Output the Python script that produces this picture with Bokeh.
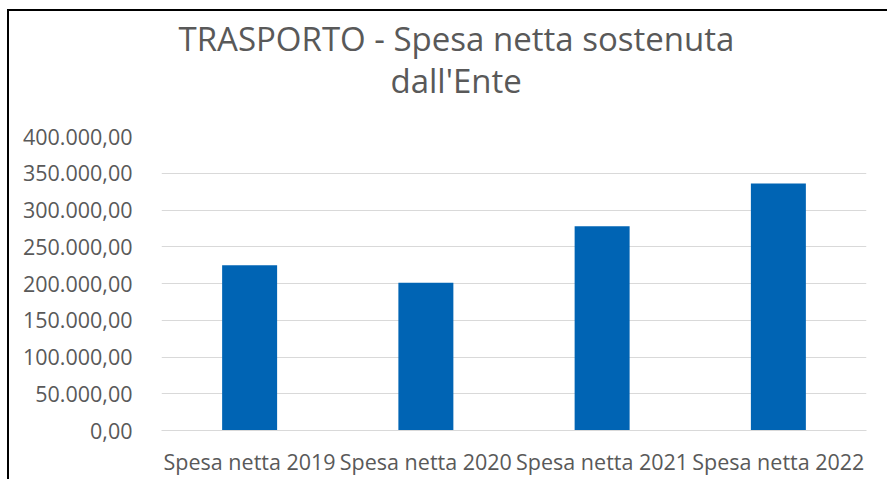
from bokeh.plotting import figure
from bokeh.models import Title, FixedTicker, Range1d
from bokeh.embed import file_html
from bokeh.resources import INLINE

categories = ["Spesa netta 2019", "Spesa netta 2020", "Spesa netta 2021", "Spesa netta 2022"]
values = [225000, 201000, 278000, 336000]
y_ticks = [0, 50000, 100000, 150000, 200000, 250000, 300000, 350000, 400000]
y_tick_labels = ["0,00", "50.000,00", "100.000,00", "150.000,00", "200.000,00",
                 "250.000,00", "300.000,00", "350.000,00", "400.000,00"]
title_lines = ["TRASPORTO - Spesa netta sostenuta", "dall'Ente"]

FONT = "Open Sans"
GREY = "#595959"

p = figure(x_range=categories, y_range=Range1d(0, 400000),
           width=880, height=470, output_backend="svg", toolbar_location=None,
           min_border_left=152, min_border_right=23, min_border_top=125, min_border_bottom=51)

p.vbar(x=categories, top=values, width=0.312, fill_color="#0064b4", line_color=None)

# second title line (closest to the frame); trailing line break keeps the gap to the plot
p.add_layout(Title(text=title_lines[1] + "\n", align="left", offset=229, vertical_align="top",
                   text_font=FONT, text_font_size="33px", text_font_style="normal",
                   text_color=GREY, standoff=0, text_line_height=0.72), "above")
# first title line, above it
p.add_layout(Title(text=title_lines[0], align="left", offset=17, vertical_align="bottom",
                   text_font=FONT, text_font_size="33px", text_font_style="normal",
                   text_color=GREY, standoff=-6), "above")

p.yaxis.ticker = FixedTicker(ticks=y_ticks)
p.yaxis.major_label_overrides = dict(zip(y_ticks, y_tick_labels))
for ax in (p.xaxis, p.yaxis):
    ax.major_tick_line_color = None
    ax.minor_tick_line_color = None
    ax.major_label_text_font = FONT
    ax.major_label_text_font_size = "21.5px"
    ax.major_label_text_color = GREY
p.yaxis.axis_line_color = None
p.yaxis.major_label_standoff = 23
p.xaxis.axis_line_color = "#d9d9d9"
p.xaxis.major_label_standoff = 10

p.xgrid.grid_line_color = None
p.ygrid.grid_line_color = "#d9d9d9"
p.outline_line_color = None
p.styles = {"border-top": "2px solid #000", "border-left": "2px solid #000",
            "margin-left": "7px", "margin-top": "9px"}

open("out.html", "w").write(file_html(p, INLINE))
